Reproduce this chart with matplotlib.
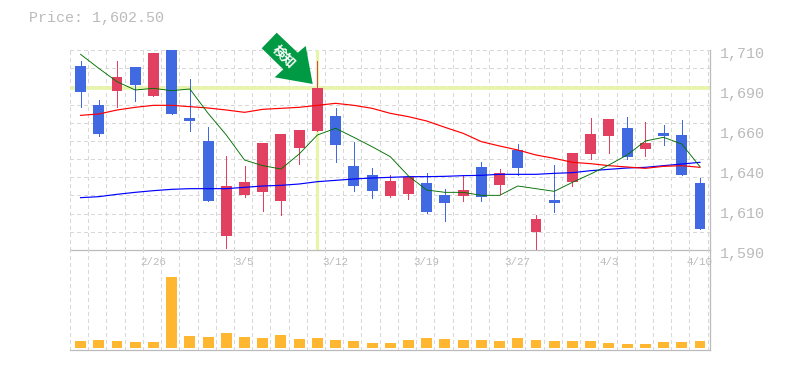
import numpy as np
import matplotlib
matplotlib.use("Agg")
import matplotlib.pyplot as plt
from matplotlib.patches import Polygon

W, H = 785, 370

# prices, one entry per session
top = [1700.4, 1677, 1693.8, 1699.8, 1708.2, 1710, 1669.2, 1655.4, 1628.4, 1630.8, 1654.2, 1659.6,
       1662, 1687.2, 1670.4, 1640.4, 1635, 1631.4, 1633.8, 1630.2, 1623, 1626, 1639.8, 1636.2,
       1650, 1608.6, 1620, 1648.2, 1659.6, 1668.6, 1663.2, 1654.2, 1660.2, 1659, 1630.2]
bottom = [1684.8, 1659.6, 1685.4, 1689, 1682.4, 1671.6, 1667.4, 1619.4, 1598.4, 1623, 1624.8, 1619.4,
          1651.2, 1661.4, 1653, 1628.4, 1625.4, 1622.4, 1623.6, 1612.8, 1618.2, 1622.4, 1621.8, 1629,
          1639.2, 1600.8, 1618.2, 1630.8, 1647.6, 1658.4, 1645.8, 1650.6, 1658.4, 1635, 1602.5]
high = [1703.4, 1680, 1703.4, 1699.8, 1708.2, 1710, 1692.6, 1663.8, 1646.4, 1640.4, 1654.2, 1659.6,
        1662, 1703.4, 1675.2, 1654.8, 1639.2, 1635, 1633.8, 1636.2, 1626.6, 1635, 1642.8, 1638.6,
        1653.6, 1611, 1641, 1648.2, 1669.2, 1668.6, 1669.8, 1666.8, 1665, 1668, 1633.2]
low = [1675.8, 1658.4, 1675.8, 1679.4, 1682.4, 1671.6, 1661.4, 1619.4, 1591.2, 1621.8, 1613.4, 1611,
       1641.6, 1661.4, 1642.8, 1625.4, 1621.2, 1621.8, 1620.6, 1612.2, 1607.4, 1619.4, 1619.4, 1623.6,
       1635, 1590, 1612.8, 1628.4, 1644.6, 1648.2, 1644.6, 1646.4, 1653, 1635, 1602.5]
is_up = [0, 0, 1, 0, 1, 0, 0, 0, 1, 1, 1, 1, 1, 1, 0, 0, 0, 1, 1, 0, 0, 1, 0, 1,
         0, 1, 0, 1, 1, 1, 0, 1, 0, 0, 0]

ma_short = [1707.4, 1699, 1691, 1686, 1687, 1685.6, 1686.6, 1672, 1659, 1644, 1640.6, 1638.6,
            1647.6, 1659, 1663, 1657.6, 1652, 1646, 1634.4, 1626, 1624.6, 1624.6, 1622.8, 1622.8,
            1628.4, 1626.8, 1625.2, 1630.6, 1635.6, 1641, 1647, 1655.4, 1657.6, 1653.6, 1640]
ma_mid = [1670.8, 1671.6, 1674, 1675.6, 1676.8, 1676.8, 1676, 1675.2, 1674, 1672.6, 1674.4, 1675,
          1675.6, 1676.8, 1678, 1676.8, 1675, 1672, 1670, 1667.4, 1663.6, 1660, 1655, 1652.4,
          1650, 1647, 1645, 1642.6, 1641.8, 1640.6, 1639.8, 1639, 1640.2, 1640.6, 1639.6]
ma_long = [1621.4, 1622, 1623.4, 1624.6, 1625.6, 1626.4, 1626.8, 1626.8, 1626.8, 1627.6, 1628.4, 1628.8,
           1629.6, 1631, 1631.8, 1632.6, 1633.2, 1633.6, 1634, 1634, 1634.2, 1634.6, 1634.8, 1635.4,
           1635.4, 1635.4, 1636, 1636.4, 1637.6, 1638.4, 1639.2, 1639.6, 1640.6, 1641.6, 1642.6]

volume = [7, 8, 7, 6, 6, 71, 12, 11, 15, 11, 10, 13, 9, 10, 8, 7, 5, 5, 8, 10, 9, 8, 8, 7,
          10, 8, 7, 7, 7, 5, 4, 4, 6, 6, 7]

price_ticks = [1590, 1614, 1638, 1662, 1686, 1710]
price_labels = ["1,590", "1,610", "1,640", "1,660", "1,690", "1,710"]
date_pos = [4, 9, 14, 19, 24, 29, 34]
date_labels = ["2/26", "3/5", "3/12", "3/19", "3/27", "4/3", "4/10"]
signal_index = 13
signal_price = 1687

RED = "#E24060"
BLUE = "#4169E1"
GRAY = "#BBBBBB"
GRID = "#D8D8D8"
HILITE = "#E6F5AA"
FONT = "Liberation Mono"
DASH = (0, (3, 3))

x = np.arange(len(top))
colors = [RED if u else BLUE for u in is_up]

fig = plt.figure(figsize=(W / 100, H / 100), dpi=100)


def axes_px(left, upper, right, lower):
    return fig.add_axes([left / W, 1 - lower / H, (right - left) / W, (lower - upper) / H])


ax = axes_px(70, 50, 710, 250)
vol = axes_px(70, 250, 710, 350)
vol.patch.set_visible(False)

xlim = (-0.52, 34.55)
grid_x = np.arange(36) - 0.58
grid_x = grid_x[(grid_x > xlim[0] - 0.1) & (grid_x < xlim[1])]

for a in (ax, vol):
    a.set_xlim(xlim)
    for s in ("left", "top"):
        a.spines[s].set_visible(False)
    for s in ("right", "bottom"):
        a.spines[s].set_color(GRAY)
        a.spines[s].set_linewidth(0.9)
    a.set_xticks(grid_x)
    a.grid(True, axis="x", color=GRID, linewidth=0.72, linestyle=DASH, antialiased=False)
    a.set_axisbelow(True)
    a.tick_params(length=0, labelbottom=False, labelleft=False)

# price panel
ax.set_ylim(1590, 1710)
ax.set_yticks(np.linspace(1590, 1710, 12))
ax.grid(True, axis="y", color=GRID, linewidth=0.72, linestyle=DASH, antialiased=False)
ax.axhline(signal_price, color=HILITE, linewidth=2.6, zorder=1)
ax.axvline(signal_index, color=HILITE, linewidth=2.3, zorder=1)

ax.vlines(x, low, high, colors=colors, linewidth=0.72, zorder=3, antialiased=False)
ax.bar(x, np.array(top) - np.array(bottom), bottom=bottom, width=0.6, color=colors, zorder=3)
ax.plot(x, ma_long, color="#0000FF", linewidth=0.85, zorder=4)
ax.plot(x, ma_mid, color="#FF0000", linewidth=0.85, zorder=4)
ax.plot(x, ma_short, color="#007000", linewidth=0.65, zorder=4)

for t, lab in zip(price_ticks, price_labels):
    ax.annotate(lab, (1, (t - 1590) / 120), xycoords="axes fraction", xytext=(7, -2.6),
                textcoords="offset points", ha="left", va="center",
                fontsize=10.8, color=GRAY, family=FONT)

# volume panel, the baseline sits two pixels over the frame
vol.set_ylim(-2, 98)
vol.set_yticks([])
vol.bar(x, volume, width=0.6, color="#FFB732", zorder=3)
for p, lab in zip(date_pos, date_labels):
    vol.text(p, 86, lab, ha="center", va="center", fontsize=7.8, color=GRAY, family=FONT, zorder=5)

fig.text(29 / W, 1 - 18 / H, "Price: 1,602.50", fontsize=10.8, color=GRAY, family=FONT,
         ha="left", va="center")

# arrow badge pointing at the signal candle
arrow_px = [(276.7, 32.7), (261.7, 48.3), (283.3, 69.3), (274.7, 77.3),
            (312.7, 84), (305.7, 46), (297.7, 52.7)]
fig.add_artist(Polygon([(px / W, 1 - py / H) for px, py in arrow_px], closed=True,
                       facecolor="#009944", edgecolor="none", transform=fig.transFigure, zorder=6))
fig.text(284 / W, 1 - 57 / H, "検知", rotation=-45, rotation_mode="anchor", fontsize=9.5,
         fontweight="bold", color="white", family=["Noto Sans CJK JP", "DejaVu Sans"],
         ha="center", va="center", zorder=7)

fig.savefig("out.png", dpi=100)
